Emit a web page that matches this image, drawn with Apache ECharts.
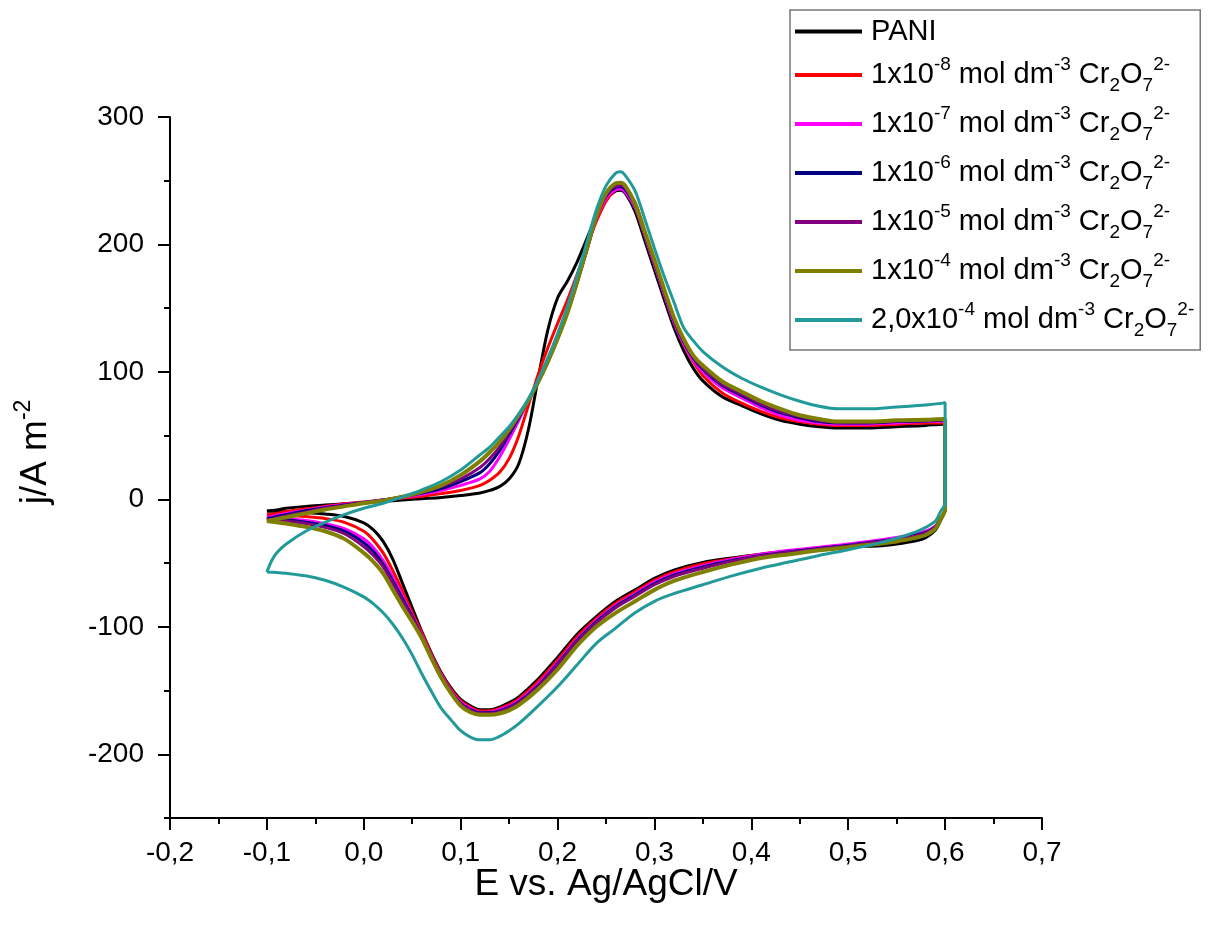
<!DOCTYPE html>
<html><head><meta charset="utf-8">
<script src="https://cdn.jsdelivr.net/npm/echarts@6/dist/echarts.min.js"></script>
<style>html,body{margin:0;padding:0;background:#fff}#c{width:1212px;height:932px}</style>
</head><body><div id="c"></div>
<script>
// Forward (anodic) scan potentials, V
const upperE = [-0.1,-0.095,-0.09,-0.08,-0.06,-0.04,-0.02,0.0,0.02,0.04,0.06,0.08,0.10,0.12,0.13,0.14,0.15,0.16,0.17,0.18,0.19,0.20,0.21,0.22,0.23,0.24,0.25,0.26,0.265,0.27,0.28,0.29,0.30,0.31,0.32,0.33,0.34,0.35,0.37,0.39,0.41,0.43,0.45,0.47,0.49,0.52,0.55,0.58,0.598,0.6];
// Reverse (cathodic) scan potentials, V
const lowerE = [0.6,0.595,0.59,0.58,0.57,0.55,0.53,0.5,0.47,0.44,0.41,0.38,0.35,0.32,0.30,0.28,0.26,0.24,0.22,0.20,0.18,0.16,0.15,0.14,0.13,0.12,0.11,0.10,0.09,0.08,0.07,0.06,0.05,0.04,0.03,0.02,0.01,0.0,-0.02,-0.04,-0.06,-0.08,-0.09,-0.1];

const pani_up = [-9,-8.7,-8.3,-7,-5.5,-4.5,-3.5,-2.5,-1.5,-0.5,0.5,1.5,3,5,7,10,16,28,55,95,133,158,171,186,204,222,235,242,242.5,240,226,203,180,157,135,117,103,93,80.5,73.5,67,62,59,57,56,56,57,58,59,59];
const pani_dn = [-8,-17,-24,-30,-32.5,-35,-36.5,-37,-38.5,-40.5,-43,-46,-49.5,-55.5,-62,-71,-80,-92,-106,-124,-141,-155,-159.5,-163,-165,-165,-162,-157,-148,-136,-121,-104,-85,-66,-47,-33,-24,-18.5,-13.5,-11.5,-10.3,-9.7,-9.5,-9.3];

const c8_up = [-12,-11.7,-11,-9.5,-7.5,-5.5,-3.5,-2,-0.5,1,2.5,4.5,7,11,15,21,32,50,74,98,119,138,156,176,198,218,234,243,244,242,230,209,186,162,140,122,108,97,83.5,75.5,69,64,61,59,58,58,59,60,60,60];
const c8_dn = [-8,-16,-22,-27,-29.5,-32.5,-34,-36,-38,-40.5,-43,-46.5,-50.5,-57,-63.5,-72.5,-81.5,-93.5,-108,-126,-143,-156.5,-161,-164,-166,-166,-163,-158,-149,-137,-122,-105,-89,-72,-56,-42,-32,-25,-18,-15,-13.5,-12.5,-12.2,-12];

const c7_up = [-14,-13.5,-12.5,-11,-8.5,-6,-4,-2.5,-0.5,1.5,4,7,11,16,22,33,47,62,78,93,109,127,147,170,195,220,236,243,243.5,241,229,207,184,161,139,122,109,100,87.5,79.5,72,66,62,60,59,59,60,61,61,61];
const c7_dn = [-8,-15,-21,-25,-27,-30,-32,-35,-37.5,-40,-43,-47,-52,-58.5,-65,-74,-83,-95,-110,-128,-145,-158,-162,-165,-167,-167,-164,-159,-150,-138,-123,-107,-91,-76,-61,-48,-38,-31,-23,-19,-16.5,-15,-14.5,-14];

const c6_up = [-15,-14.5,-13.5,-12,-9,-6.5,-4.5,-2.5,-0.5,2,5,8.5,14,21,28,38,51,64,78,92,108,126,146,170,195,221,238,245,245.5,243,231,209,186,163,141,124,111,102,89.5,81.5,74,68,64,61,60,60,61,61.5,62,62];
const c6_dn = [-8,-15.5,-21.5,-26,-28,-31,-33,-36,-38.5,-41,-44,-48,-53,-59.5,-66,-75,-84,-96,-111,-129,-146,-159,-163,-166,-167.5,-167.5,-165,-160,-151,-139,-124,-108,-92,-78,-64,-51,-41,-34,-25,-20.5,-18,-16,-15.5,-15];

const c5_up = [-16,-15.5,-14.5,-13,-10,-7,-5,-3,-1,2,5.5,10,16,25,32,41,53,65,78,92,108,126,146,170,196,221,239,246,246.5,244,233,210,187,164,142,125,112,103,90.5,82.5,75,69,65,62,60.5,60.5,61.5,62,62.5,62.5];
const c5_dn = [-8,-16,-22,-26.5,-28.5,-31.5,-33.5,-36.5,-39,-41.5,-44.5,-48.5,-54,-60.5,-67,-76,-85,-97,-112,-130,-147,-159.5,-163.5,-166.5,-168,-168,-165.5,-160.5,-152,-140,-125,-109,-93,-80,-66,-53,-44,-37,-27,-22,-19,-17,-16.5,-16];

const c4_up = [-17,-16.3,-15.5,-14,-11,-8,-5.5,-3,-1,2,6,11,19,30,37,45,55,66,78,92,108,126,146,170,196,222,240,248,248.5,246,232,210,188,165,143,126,113,105,92.5,84.5,77,71,66,63,61,61,62,62.5,63,63];
const c4_dn = [-8,-16,-23,-28,-30,-33,-35,-37.5,-40,-43,-46,-51,-57,-64,-71,-80,-89,-100,-115,-133.5,-149,-161.5,-165.5,-168,-169,-169,-167,-162,-152,-140,-125,-109,-96,-84,-71,-58,-49,-42,-31,-25,-21.5,-19,-18,-17];

const c2_up = [-57,-48,-42,-35,-25,-18,-12,-7,-3,2,7.5,14,23,35,41,49,57,67,79,94,111,130,151,175,201,227,246,256,257,254,242,220,197,175,155,135,124.5,116,104,95,88,82,77,73,71,71,72.5,74,75.5,76];
const c2_dn = [-3,-10,-17,-22,-25.5,-30.5,-34.5,-39.5,-44,-49,-54,-60,-67,-74,-80,-89,-101,-113,-130,-147,-162,-176,-181.5,-186,-188.7,-188.7,-186.5,-181.5,-173,-164,-151,-137,-122,-109,-98,-89,-82,-76.5,-69,-63.5,-60,-58,-57.3,-57];

const seriesNames = ['PANI','1x10-8 mol dm-3 Cr2O72-','1x10-7 mol dm-3 Cr2O72-','1x10-6 mol dm-3 Cr2O72-','1x10-5 mol dm-3 Cr2O72-','1x10-4 mol dm-3 Cr2O72-','2,0x10-4 mol dm-3 Cr2O72-'];
const legendLabels = ['{p|PANI}',
  '1x10{sup|-8} mol dm{sup|-3} Cr{sub|2}O{sub|7}{sup|2-}',
  '1x10{sup|-7} mol dm{sup|-3} Cr{sub|2}O{sub|7}{sup|2-}',
  '1x10{sup|-6} mol dm{sup|-3} Cr{sub|2}O{sub|7}{sup|2-}',
  '1x10{sup|-5} mol dm{sup|-3} Cr{sub|2}O{sub|7}{sup|2-}',
  '1x10{sup|-4} mol dm{sup|-3} Cr{sub|2}O{sub|7}{sup|2-}',
  '2,0x10{sup|-4} mol dm{sup|-3} Cr{sub|2}O{sub|7}{sup|2-}'];
const seriesColors = ['#000000','#ff0000','#ff00ff','#000080','#800080','#808000','#219a99'];
const seriesWidths = [3,3,3,3,3,4,3];
const upBranches = [pani_up,c8_up,c7_up,c6_up,c5_up,c4_up,c2_up];
const dnBranches = [pani_dn,c8_dn,c7_dn,c6_dn,c5_dn,c4_dn,c2_dn];

const yMajor = [-200,-100,0,100,200,300];
const yMinor = [-250,-150,-50,50,150,250];

const FONT = '"Liberation Sans", Arial, sans-serif';

const series = seriesNames.map((name, k) => {
  const pts = upperE.map((e, i) => [e, upBranches[k][i]])
    .concat(lowerE.map((e, i) => [e, dnBranches[k][i]]));
  return {
    name, type: 'line', data: pts, showSymbol: false, symbol: 'none',
    smooth: 0.3,
    color: seriesColors[k],
    itemStyle: {color: seriesColors[k]},
    lineStyle: {color: seriesColors[k], width: seriesWidths[k]},
    silent: true, animation: false
  };
});

const axisFmt = v => (Math.abs(v) < 1e-9 ? 0 : v).toFixed(1).replace('.', ',');

const chart = echarts.init(document.getElementById('c'));
chart.setOption({
  backgroundColor: '#fff',
  animation: false,
  grid: {left: 170, right: 170, top: 117, bottom: 114, containLabel: false},
  xAxis: {
    type: 'value', min: -0.2, max: 0.7, interval: 0.1,
    axisLine: {show: true, onZero: false, lineStyle: {color: '#000', width: 2}},
    axisTick: {show: true, length: 12, lineStyle: {color: '#000', width: 2}},
    minorTick: {show: true, splitNumber: 2, length: 6, lineStyle: {color: '#000', width: 2}},
    splitLine: {show: false}, minorSplitLine: {show: false},
    axisLabel: {formatter: axisFmt, fontSize: 28, color: '#000', fontFamily: FONT, margin: 21}
  },
  yAxis: [{
    type: 'value', min: -250, max: 300, interval: 50, position: 'left',
    axisLine: {show: true, onZero: false, lineStyle: {color: '#000', width: 2}},
    axisTick: {show: true, length: 12, customValues: yMajor, lineStyle: {color: '#000', width: 2}},
    axisLabel: {customValues: yMajor, fontSize: 28, color: '#000', fontFamily: FONT, margin: 26},
    splitLine: {show: false}
  }, {
    type: 'value', min: -250, max: 300, interval: 50, position: 'left', offset: 0,
    axisLine: {show: false, onZero: false},
    axisTick: {show: true, length: 6, customValues: yMinor, lineStyle: {color: '#000', width: 2}},
    axisLabel: {show: false},
    splitLine: {show: false}
  }],
  legend: {
    orient: 'vertical', left: 790, top: 10, padding: [7, 6, 10, 5],
    itemGap: 9, itemWidth: 67, itemHeight: 4, icon: 'rect',
    borderColor: '#777', borderWidth: 1.5, backgroundColor: '#fff',
    data: seriesNames,
    formatter: name => legendLabels[seriesNames.indexOf(name)],
    textStyle: {
      fontSize: 29, fontFamily: FONT, color: '#000', lineHeight: 40, padding: [0, 0, 0, 4],
      rich: {
        p: {fontSize: 29, fontFamily: FONT, color: '#000', lineHeight: 24},
        sup: {fontSize: 19, fontFamily: FONT, color: '#000', lineHeight: 18, verticalAlign: 'top'},
        sub: {fontSize: 19, fontFamily: FONT, color: '#000', lineHeight: 18, verticalAlign: 'bottom'}
      }
    }
  },
  graphic: [
    {type: 'text', x: 606, y: 885, silent: true,
     style: {text: 'E vs. Ag/AgCl/V', font: '37px ' + FONT, fill: '#000', align: 'center', verticalAlign: 'middle'}},
    {type: 'text', x: 36, y: 452, rotation: Math.PI / 2, silent: true,
     style: {text: 'j/A m{sup|-2}', font: '37px ' + FONT, fill: '#000', align: 'center', verticalAlign: 'middle',
       rich: {sup: {font: '23px ' + FONT, fill: '#000', lineHeight: 22, verticalAlign: 'top'}},
       lineHeight: 48}}
  ],
  series
});
</script>
</body></html>
